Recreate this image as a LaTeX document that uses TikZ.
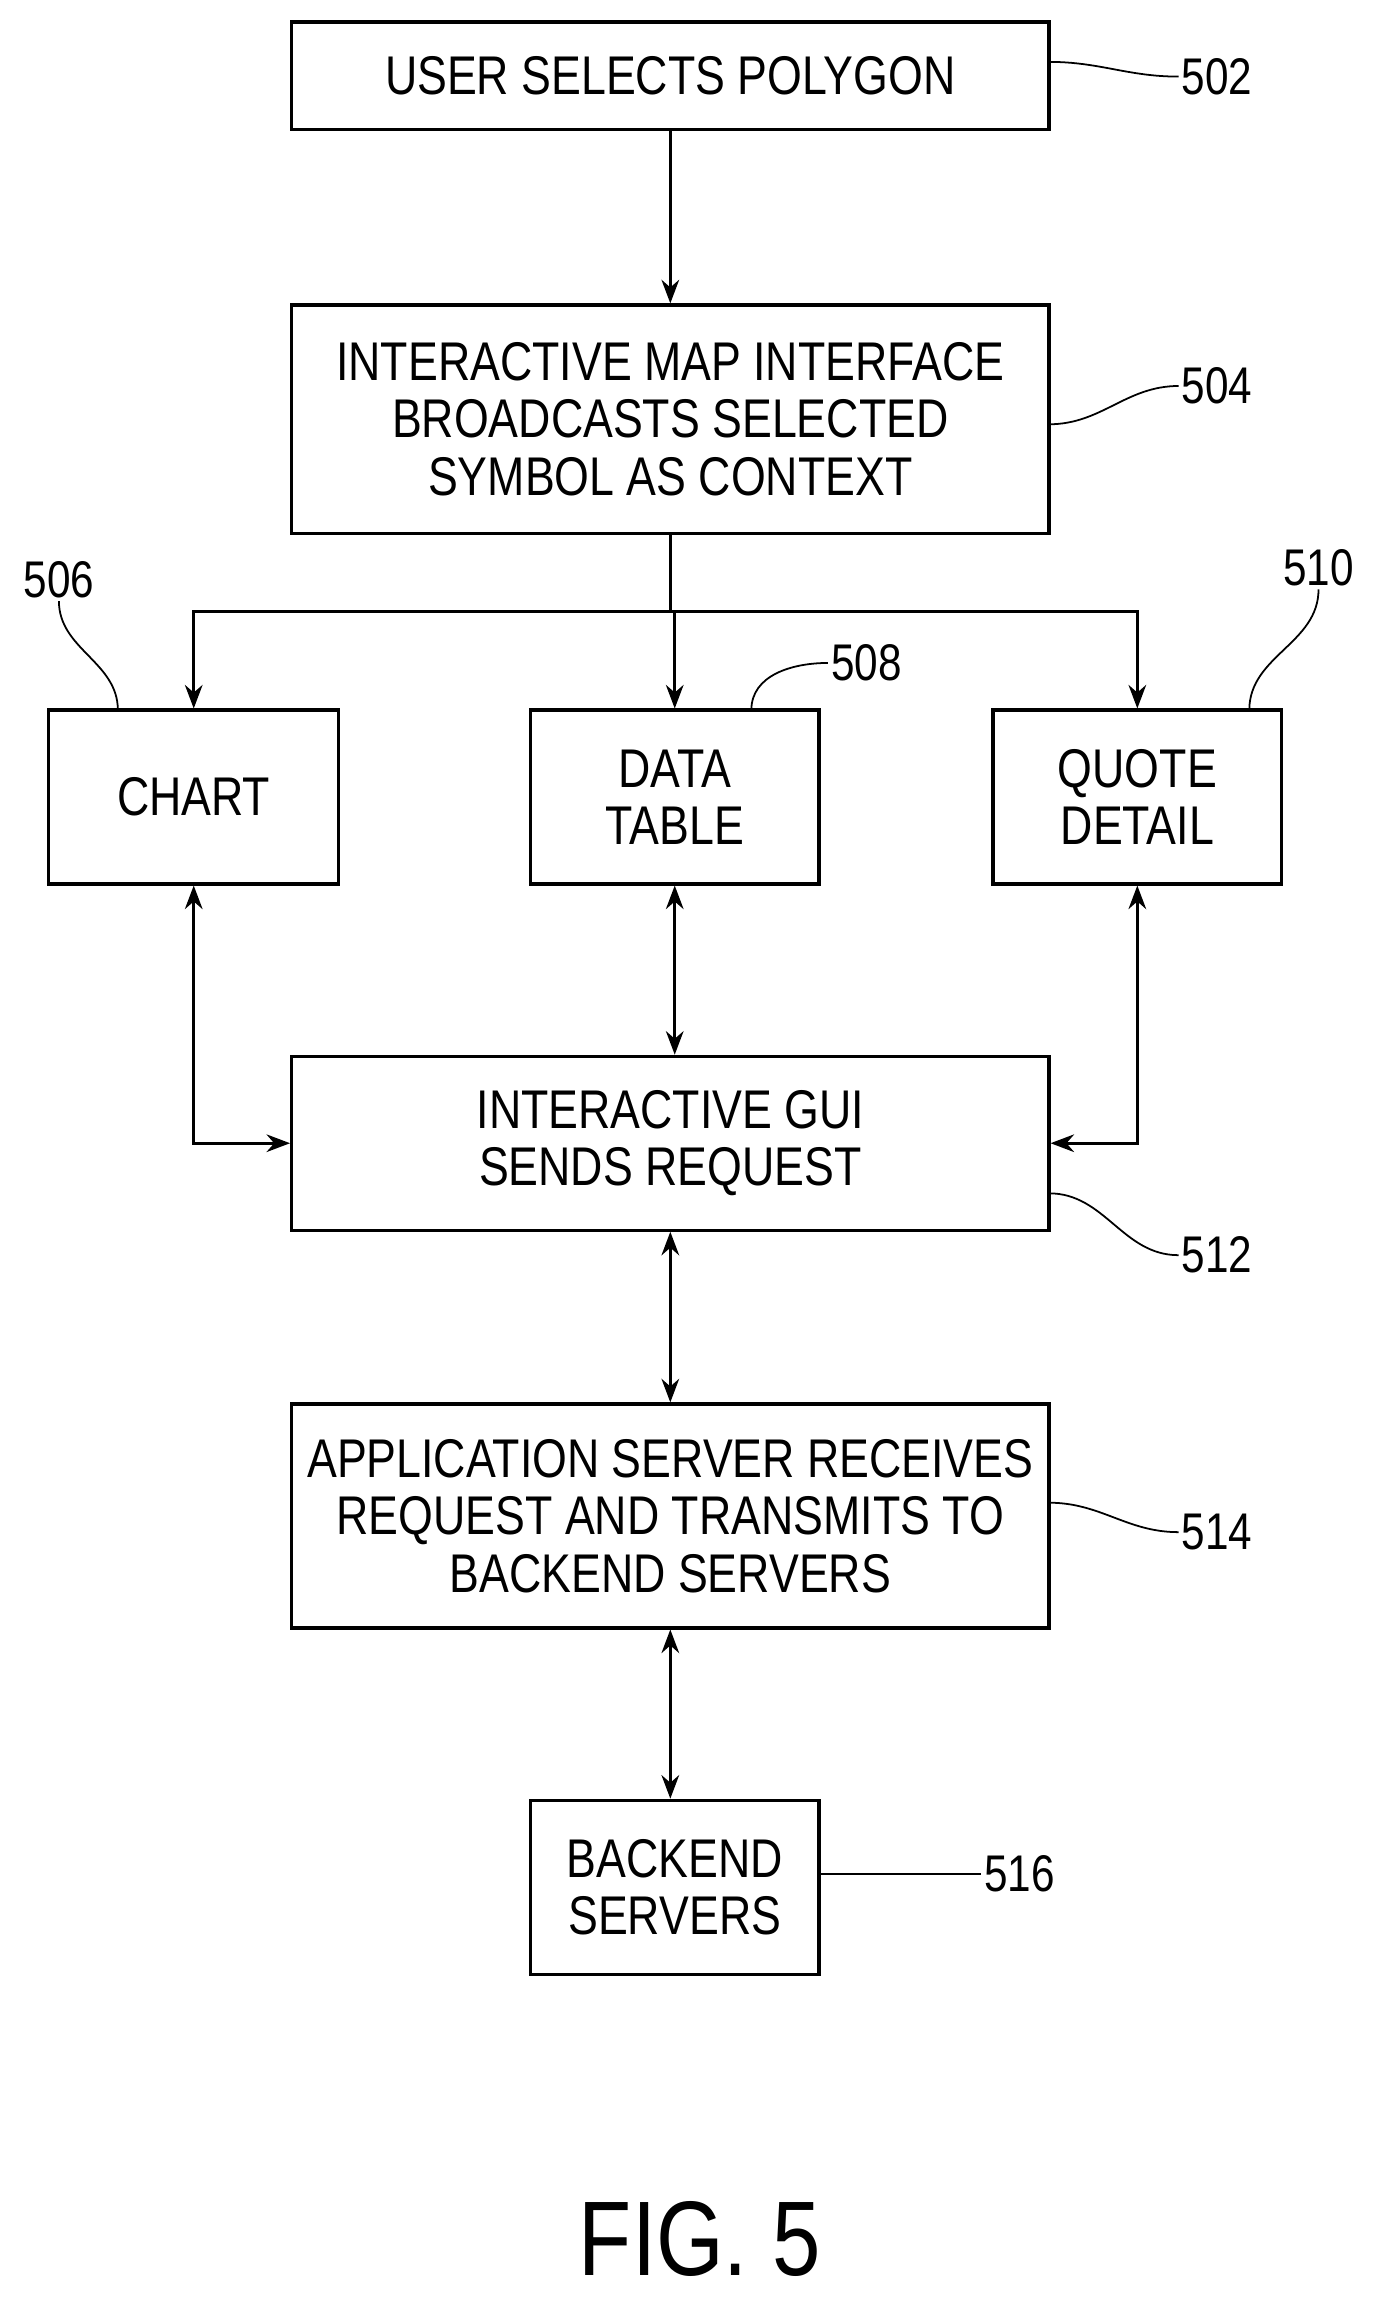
\documentclass[tikz,border=0pt]{standalone}
\usepackage{fontspec}
\setmainfont[FakeStretch=0.82]{Liberation Sans}
\usetikzlibrary{arrows.meta}
\begin{document}
\begin{tikzpicture}[x=1pt,y=-1pt,
  box/.style={draw,line width=2.2pt,inner sep=0pt,align=center,font=\fontsize{37}{39}\selectfont},
  ln/.style={line width=1.8pt},
  ar/.style={ln,-{Stealth[length=16pt,width=12pt]}},
  dar/.style={ln,{Stealth[length=16pt,width=12pt]}-{Stealth[length=16pt,width=12pt]}},
  lab/.style={font=\fontsize{35}{35}\selectfont,anchor=west,inner sep=2pt},
  sq/.style={line width=1.2pt}]
\useasboundingbox (0,0) rectangle (936,1568);
\node[box,minimum width=514pt,minimum height=73pt] (b502) at (455,51.5) {USER SELECTS POLYGON};
\node[box,minimum width=514pt,minimum height=155pt] (b504) at (455,284.5) {INTERACTIVE MAP INTERFACE\\BROADCASTS SELECTED\\SYMBOL AS CONTEXT};
\node[box,minimum width=197pt,minimum height=118pt] (b506) at (131.5,541) {CHART};
\node[box,minimum width=196pt,minimum height=118pt] (b508) at (458,541) {DATA\\TABLE};
\node[box,minimum width=196pt,minimum height=118pt] (b510) at (772,541) {QUOTE\\DETAIL};
\node[box,minimum width=514pt,minimum height=118pt] (b512) at (455,776) {INTERACTIVE GUI\\SENDS REQUEST};
\node[box,minimum width=514pt,minimum height=152pt] (b514) at (455,1029) {APPLICATION SERVER RECEIVES\\REQUEST AND TRANSMITS TO\\BACKEND SERVERS};
\node[box,minimum width=196pt,minimum height=118pt] (b516) at (458,1281) {BACKEND\\SERVERS};
\node[font=\fontsize{72}{72}\selectfont] (fig) at (475,1520) {FIG. 5};

\draw[ar] (b502.south) -- (b504.south|-b502.south) ++(0,0) -- (b504.north);
\coordinate (j) at (455,415);
\draw[ln] (b504.south) -- (j);
\draw[ar] (j) -| (b506.north);
\draw[ar] (j) -| (b510.north);
\draw[ar] (j) -- (j-|b508.north) -- (b508.north);
\draw[dar] (b506.south) |- (b512.west);
\draw[dar] (b510.south) |- (b512.east);
\draw[dar] (b508.south) -- (b508.south|-b512.north);
\draw[dar] (b512.south) -- (b514.north);
\draw[dar] (b514.south) -- (b514.south|-b516.north);

\node[lab] (l502) at (800,52) {502};
\node[lab] (l504) at (800,262) {504};
\node[lab,anchor=south] (l506) at (40,408) {506};
\node[lab] (l508) at (562,450) {508};
\node[lab,anchor=south] (l510) at (895,400) {510};
\node[lab] (l512) at (800,852) {512};
\node[lab] (l514) at (800,1040) {514};
\node[lab] (l516) at (666,1272) {516};
\coordinate (c502) at (712,42);
\coordinate (c504) at (712,288);
\coordinate (c506) at (80,482);
\coordinate (c508) at (510,482);
\coordinate (c510) at (848,482);
\coordinate (c512) at (712,810);
\coordinate (c514) at (712,1020);
\coordinate (c516) at (556,1272);
\draw[sq] (c502) to[out=0,in=180] (l502.west);
\draw[sq] (c504) to[out=0,in=180] (l504.west);
\draw[sq] (c506) to[out=90,in=-90] (l506.south);
\draw[sq] (c508) to[out=90,in=180] (l508.west);
\draw[sq] (c510) to[out=90,in=-90] (l510.south);
\draw[sq] (c512) to[out=0,in=180] (l512.west);
\draw[sq] (c514) to[out=0,in=180] (l514.west);
\draw[sq] (c516) to[out=0,in=180] (l516.west);
\end{tikzpicture}
\end{document}
